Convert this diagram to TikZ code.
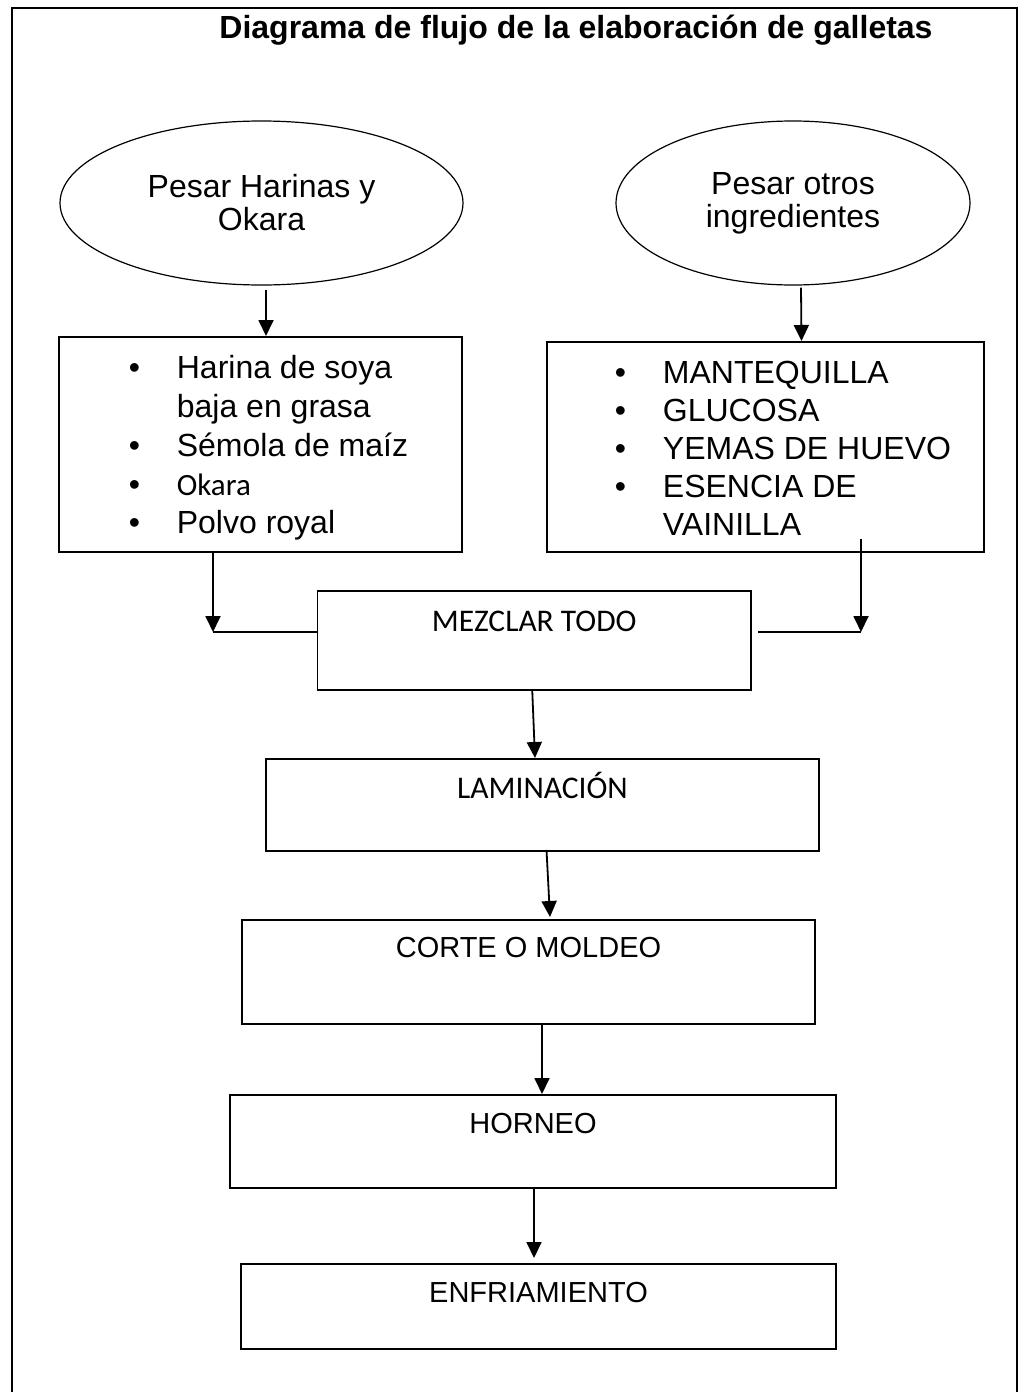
\documentclass[tikz,border=0pt]{standalone}
\usepackage{fontspec}
\setmainfont{Liberation Sans}
\newfontfamily\calibri{Carlito}
\usepackage{tikz}
\usetikzlibrary{shapes.geometric, arrows.meta, calc}

\newcommand{\blt}{\makebox[48pt][l]{•}}
\newcommand{\bltgap}{\hspace*{48pt}}

\begin{document}
\begin{tikzpicture}[x=1pt, y=-1pt,
    stepbox/.style={draw, line width=1.8pt, inner sep=0pt, anchor=north, align=center},
    listbox/.style={draw, line width=1.8pt, inner sep=0pt, anchor=north, font=\fontsize{32}{38.75}\selectfont},
    weigh/.style={draw, ellipse, line width=1.2pt, inner sep=0pt, align=center, font=\fontsize{32}{33}\selectfont},
    calfont/.style={font=\fontsize{31.5}{36}\selectfont\calibri},
    arfont/.style={font=\fontsize{29}{33}\selectfont},
    arr/.style={line width=1.8pt, -{Triangle[length=16pt, width=15pt]}}
]
    \useasboundingbox (0,0) rectangle (1024,1392);
    % page frame
    \draw[line width=2pt] (12,1392) -- (12,8) -- (1017,8) -- (1017,1392);

    \node[font=\bfseries\fontsize{32}{36}\selectfont, anchor=base] (title) at (576,38) {Diagrama de flujo de la elaboración de galletas};

    % weighing
    \node[weigh, minimum width=403pt, minimum height=164pt] (weighflour) at (261.5,203) {Pesar Harinas y\\Okara};
    \node[weigh, minimum width=354pt, minimum height=164pt] (weighother) at (793,203) {Pesar otros\\ingredientes};

    % ingredient lists
    \node[listbox, minimum width=403pt, text height=42pt, text depth=173pt] (flours) at (260.5,336) {\hspace*{16pt}\begin{tabular}[t]{@{}l@{}}
        \blt Harina de soya\\
        \bltgap baja en grasa\\
        \blt Sémola de maíz\\
        \blt {\calibri\fontsize{31}{38.75}\selectfont Okara}\\
        \blt Polvo royal
    \end{tabular}};
    \node[listbox, font=\fontsize{32}{38}\selectfont, minimum width=437pt, text height=42pt, text depth=168pt] (others) at (765.5,341) {\hspace*{35pt}\begin{tabular}[t]{@{}l@{}}
        \blt MANTEQUILLA\\
        \blt GLUCOSA\\
        \blt YEMAS DE HUEVO\\
        \blt ESENCIA DE\\
        \bltgap VAINILLA
    \end{tabular}};

    % process steps
    \node[stepbox, calfont, minimum width=433.5pt, text height=41pt, text depth=58pt] (mix) at (534.25,590) {MEZCLAR TODO};
    \node[stepbox, calfont, minimum width=553pt, text height=40pt, text depth=52pt] (laminate) at (542.5,758) {LAMINACIÓN};
    \node[stepbox, arfont, minimum width=573pt, text height=38pt, text depth=66pt] (cut) at (528.5,919) {CORTE O MOLDEO};
    \node[stepbox, arfont, minimum width=606pt, text height=39pt, text depth=54pt] (bake) at (533,1094) {HORNEO};
    \node[stepbox, arfont, minimum width=595pt, text height=39pt, text depth=46pt] (cool) at (538.5,1263) {ENFRIAMIENTO};

    % connectors
    \draw[arr] ([xshift=4.5pt, yshift=-4pt]weighflour.south) -- ([xshift=5.5pt]flours.north);
    \draw[arr] ([xshift=8pt, yshift=-2pt]weighother.south) -- ([xshift=36pt]others.north);

    \coordinate (ljoin) at (213,632);
    \coordinate (rjoin) at (861,632);
    \draw[arr] (flours.south -| ljoin) -- (ljoin);
    \draw[line width=1.8pt] (ljoin) -- (mix.west |- ljoin);
    \draw[arr] ($(others.south -| rjoin)+(0,-14)$) -- (rjoin);
    \draw[line width=1.8pt] ($(mix.east |- rjoin)+(6,0)$) -- (rjoin);

    \draw[arr] ([xshift=-2pt]mix.south) -- ([xshift=-7.5pt]laminate.north);
    \draw[arr] ([xshift=4pt, yshift=2pt]laminate.south) -- ([xshift=21.5pt, yshift=2pt]cut.north);
    \draw[arr] ([xshift=13.5pt]cut.south) -- ([xshift=9pt]bake.north);
    \draw[arr] ([xshift=1pt]bake.south) -- ([xshift=-4.5pt, yshift=5pt]cool.north);
\end{tikzpicture}
\end{document}
